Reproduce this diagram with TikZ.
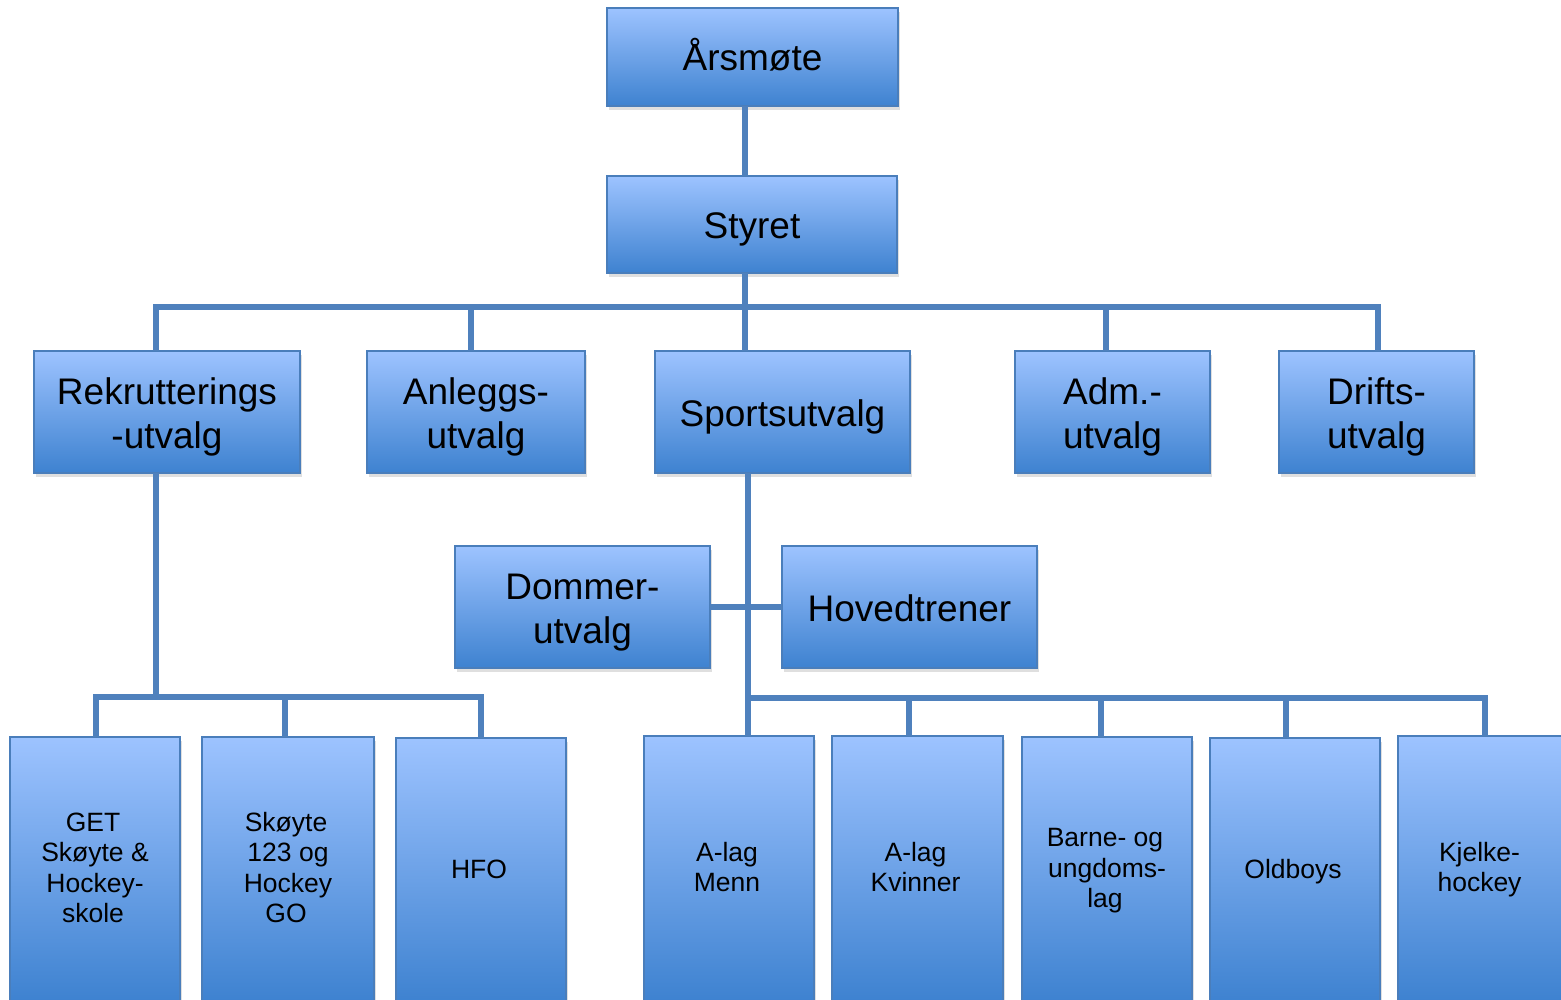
\documentclass[tikz,border=0pt]{standalone}
\usepackage{fontspec}
\setmainfont{Liberation Sans}
\usetikzlibrary{shadows}
\definecolor{edgeblue}{RGB}{74,126,187}
\definecolor{connblue}{RGB}{79,129,189}
\definecolor{filltop}{RGB}{157,195,255}
\definecolor{fillmid}{RGB}{126,175,244}
\definecolor{fillbot}{RGB}{62,130,208}
\newcommand\tls{\rule[-8pt]{0pt}{44pt}}
\newcommand\bls{\rule[-7pt]{0pt}{30pt}\hspace*{4pt}}
\tikzset{
  orgbox/.style={draw=edgeblue, line width=1.5pt, top color=filltop, middle color=fillmid, bottom color=fillbot,
    align=center, anchor=north west, inner sep=0pt, outer sep=0pt,
    drop shadow={opacity=0.25, shadow xshift=2pt, shadow yshift=-4pt}},
  bigtext/.style={font=\fontsize{37}{44}\selectfont},
  smalltext/.style={font=\fontsize{26.5}{30.5}\selectfont},
  conn/.style={draw=connblue, line width=6pt, line cap=butt, line join=miter},
}
\begin{document}
\begin{tikzpicture}[x=1pt,y=-1pt]
\useasboundingbox (0,0) rectangle (1561,1000);
\clip (0,0) rectangle (1561,1000);
\fill[white] (0,0) rectangle (1561,1000);
% top levels
\node[orgbox,bigtext,minimum width=291pt,minimum height=98pt] (ars) at (607,8) {Årsmøte\tls};
\node[orgbox,bigtext,minimum width=290pt,minimum height=97pt] (sty) at (607,176) {Styret\tls};
% committees
\node[orgbox,bigtext,minimum width=266pt,minimum height=122pt] (rek) at (34,351) {Rekrutterings\tls\\-utvalg\tls};
\node[orgbox,bigtext,minimum width=218pt,minimum height=122pt] (anl) at (367,351) {Anleggs-\tls\\utvalg\tls};
\node[orgbox,bigtext,minimum width=255pt,minimum height=122pt] (spo) at (655,351) {Sportsutvalg\tls};
\node[orgbox,bigtext,minimum width=195pt,minimum height=122pt] (adm) at (1015,351) {Adm.-\tls\\utvalg\tls};
\node[orgbox,bigtext,minimum width=195pt,minimum height=122pt] (dri) at (1279,351) {Drifts-\tls\\utvalg\tls};
% middle
\node[orgbox,bigtext,minimum width=255pt,minimum height=122pt] (dom) at (455,546) {Dommer-\tls\\utvalg\tls};
\node[orgbox,bigtext,minimum width=255pt,minimum height=122pt] (hov) at (782,546) {Hovedtrener\tls};
% bottom row
\node[orgbox,smalltext,minimum width=170pt,minimum height=264pt] (get) at (10,737) {GET\bls\\Skøyte \&\bls\\Hockey-\bls\\skole\bls};
\node[orgbox,smalltext,minimum width=172pt,minimum height=264pt] (sko) at (202,737) {Skøyte\bls\\123 og\bls\\Hockey\bls\\GO\bls};
\node[orgbox,smalltext,minimum width=170pt,minimum height=264pt] (hfo) at (396,738) {HFO\bls};
\node[orgbox,smalltext,minimum width=170pt,minimum height=265pt] (men) at (644,736) {A-lag\bls\\Menn\bls};
\node[orgbox,smalltext,minimum width=171pt,minimum height=265pt] (kvi) at (832,736) {A-lag\bls\\Kvinner\bls};
\node[orgbox,smalltext,minimum width=170pt,minimum height=264pt] (bar) at (1022,737) {Barne- og\bls\\ungdoms-\bls\\lag\bls};
\node[orgbox,smalltext,minimum width=170pt,minimum height=264pt] (old) at (1210,738) {Oldboys\bls};
\node[orgbox,smalltext,minimum width=167pt,minimum height=265pt] (kje) at (1398,736) {Kjelke-\bls\\hockey\bls};
% connectors
\coordinate (j0) at (745,307);
\coordinate (jr) at (156,307);
\coordinate (ja) at (471,307);
\coordinate (jd) at (1106,307);
\coordinate (jf) at (1378,307);
\draw[conn] (ars.south -| j0) -- (sty.north -| j0);
\draw[conn] (sty.south -| j0) -- (spo.north -| j0);
\draw[conn] (rek.north -| jr) -- (jr) -- (jf) -- (dri.north -| jf);
\draw[conn] (ja) -- (anl.north -| ja);
\draw[conn] (jd) -- (adm.north -| jd);
% Rekrutterings branch
\coordinate (k0) at (156,697);
\coordinate (k1) at (96,697);
\coordinate (k2) at (285,697);
\coordinate (k3) at (481,697);
\draw[conn] (rek.south -| k0) -- (k0);
\draw[conn] (get.north -| k1) -- (k1) -- (k3) -- (hfo.north -| k3);
\draw[conn] (k2) -- (sko.north -| k2);
% Sportsutvalg branch
\coordinate (s0) at (748,698);
\coordinate (s1) at (909,698);
\coordinate (s2) at (1101,698);
\coordinate (s3) at (1286,698);
\coordinate (s4) at (1485,698);
\draw[conn] (spo.south -| s0) -- (men.north -| s0);
\draw[conn] (dom.east) -- (hov.west);
\draw[conn] (s0) -- (s4) -- (kje.north -| s4);
\draw[conn] (s1) -- (kvi.north -| s1);
\draw[conn] (s2) -- (bar.north -| s2);
\draw[conn] (s3) -- (old.north -| s3);
\end{tikzpicture}
\end{document}
